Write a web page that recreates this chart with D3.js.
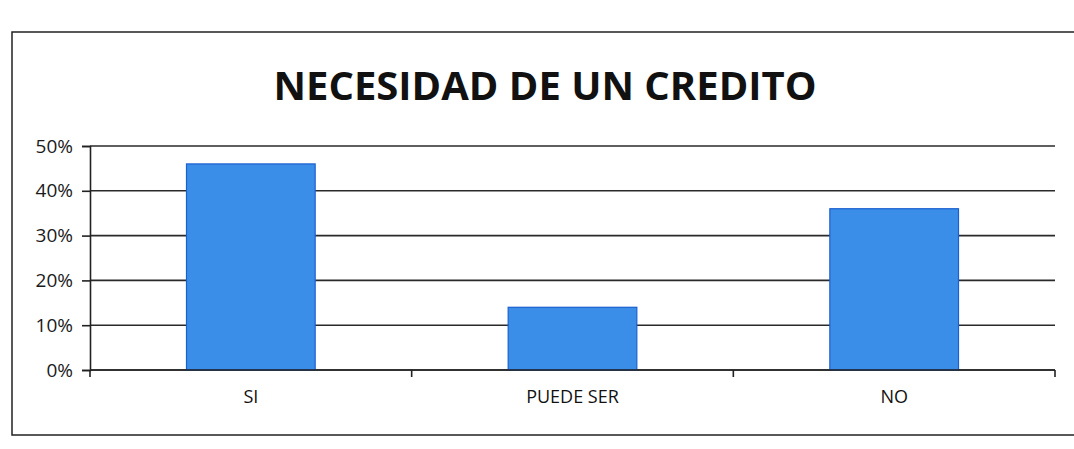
<!DOCTYPE html>
<html>
<head>
<meta charset="utf-8">
<script src="https://cdn.jsdelivr.net/npm/d3@7"></script>
<style>
  body { margin: 0; background: #fff; }
  svg { display: block; }
</style>
</head>
<body>
<div class="svgcontainer"></div>
<script>
const categories = ['SI', 'PUEDE SER', 'NO'];
const values = [0.46, 0.14, 0.36];
const yTicks = [0, 0.1, 0.2, 0.3, 0.4, 0.5];
const title = 'NECESIDAD DE UN CREDITO';

const svg = d3
  .select('.svgcontainer')
  .append('svg')
  .attr('width', 1074)
  .attr('height', 449);

// chart frame
svg.append('rect')
  .attr('x', 12)
  .attr('y', 32)
  .attr('width', 1080)
  .attr('height', 403)
  .attr('fill', '#fff')
  .attr('stroke', '#222')
  .attr('stroke-width', 1.5);

const margin = {top: 146, right: 19, bottom: 79, left: 90};
const width = 1074 - margin.left - margin.right;
const height = 449 - margin.top - margin.bottom;
const g = svg
  .append('g')
  .attr('transform', `translate(${margin.left},${margin.top})`);

const x = d3
  .scaleBand()
  .domain(categories)
  .range([0, width])
  .paddingInner(0.6)
  .paddingOuter(0.3);

const y = d3
  .scaleLinear()
  .domain([0, 0.5])
  .range([height, 0]);

// gridlines
g.append('g')
  .selectAll('line')
  .data(yTicks)
  .enter()
  .append('line')
  .attr('x1', 0)
  .attr('x2', width)
  .attr('y1', d => y(d))
  .attr('y2', d => y(d))
  .attr('stroke', '#2a2a2a')
  .attr('stroke-width', 1.6);

g.selectAll('.bar')
  .data(values)
  .enter()
  .append('rect')
  .attr('class', 'bar')
  .attr('x', (d, i) => x(categories[i]))
  .attr('y', d => y(d))
  .attr('width', x.bandwidth())
  .attr('height', d => y(0) - y(d))
  .attr('fill', '#3a8ee8')
  .attr('stroke', '#1c5fcf')
  .attr('stroke-width', 1.2);

// y axis
const yAxis = g.append('g')
  .call(d3.axisLeft(y).tickValues(yTicks).tickFormat(d3.format('.0%')).tickSize(8).tickPadding(9));
yAxis.select('.domain').attr('stroke', '#222').attr('stroke-width', 1.6);
yAxis.selectAll('.tick line').attr('stroke', '#222').attr('stroke-width', 1.6);
yAxis.selectAll('text')
  .attr('fill', '#1a1a1a')
  .style('font', '19px "Open Sans", sans-serif');

// x axis: ticks between categories
const xAxis = g.append('g').attr('transform', `translate(0,${height})`);
xAxis.append('line')
  .attr('x1', 0).attr('x2', width)
  .attr('stroke', '#222').attr('stroke-width', 1.6);
xAxis.selectAll('.sep')
  .data(d3.range(categories.length + 1))
  .enter()
  .append('line')
  .attr('x1', i => i * width / categories.length)
  .attr('x2', i => i * width / categories.length)
  .attr('y1', 0)
  .attr('y2', 7)
  .attr('stroke', '#222')
  .attr('stroke-width', 1.6);
xAxis.selectAll('.lbl')
  .data(categories)
  .enter()
  .append('text')
  .attr('x', d => x(d) + x.bandwidth() / 2)
  .attr('y', 33)
  .attr('text-anchor', 'middle')
  .attr('fill', '#111')
  .style('font', '18px "Open Sans", sans-serif')
  .text(d => d);

svg.append('text')
  .attr('x', 545)
  .attr('y', 100)
  .attr('text-anchor', 'middle')
  .attr('fill', '#111')
  .style('font', 'bold 40px "Open Sans", sans-serif')
  .text(title);
</script>
</body>
</html>
